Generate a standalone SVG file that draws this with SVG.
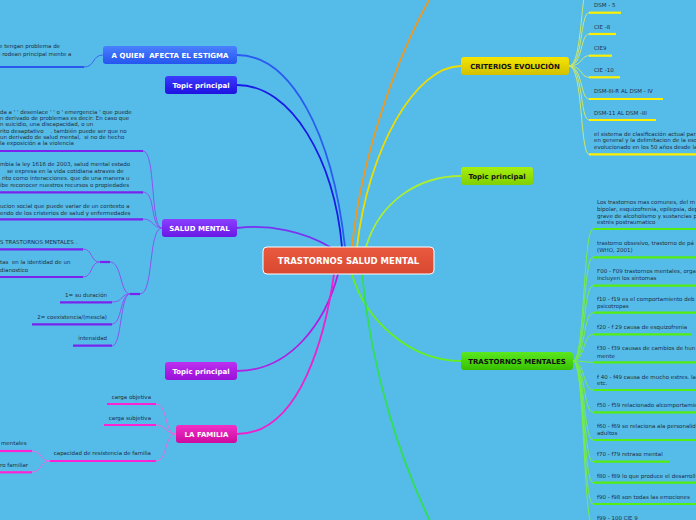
<svg xmlns="http://www.w3.org/2000/svg" width="696" height="520" viewBox="0 0 696 520">
<style>
.t{font-family:"DejaVu Sans",Verdana,sans-serif;font-size:5.5px;fill:#1f2d3d;white-space:pre}
.n{font-family:"DejaVu Sans",Verdana,sans-serif;font-size:7px;font-weight:bold;fill:#fff;white-space:pre}
.nb{fill:#111}
.e{text-anchor:end}
.c{fill:none;stroke-width:1.8;stroke-linecap:round}
.s{fill:none;stroke-width:1}
.u{stroke-width:2.2}
.bl{stroke:#2a58ee}.pu{stroke:#7a22ee}.mg{stroke:#ff22d4}.ye{stroke:#fff000}.gr{stroke:#55ee11}
</style>
<defs>
<linearGradient id="gRed" x1="0" y1="0" x2="0" y2="1"><stop offset="0" stop-color="#ea5a40"/><stop offset="1" stop-color="#d8472f"/></linearGradient>
<linearGradient id="gBlue" x1="0" y1="0" x2="0" y2="1"><stop offset="0" stop-color="#4a80ff"/><stop offset="1" stop-color="#2455ee"/></linearGradient>
<linearGradient id="gInd" x1="0" y1="0" x2="0" y2="1"><stop offset="0" stop-color="#3c3cff"/><stop offset="1" stop-color="#1e12e0"/></linearGradient>
<linearGradient id="gPur" x1="0" y1="0" x2="0" y2="1"><stop offset="0" stop-color="#8a40ff"/><stop offset="1" stop-color="#6a18e6"/></linearGradient>
<linearGradient id="gVio" x1="0" y1="0" x2="0" y2="1"><stop offset="0" stop-color="#bb30f0"/><stop offset="1" stop-color="#9a10d8"/></linearGradient>
<linearGradient id="gMag" x1="0" y1="0" x2="0" y2="1"><stop offset="0" stop-color="#f030c8"/><stop offset="1" stop-color="#cc0a9e"/></linearGradient>
<linearGradient id="gYel" x1="0" y1="0" x2="0" y2="1"><stop offset="0" stop-color="#f5e600"/><stop offset="1" stop-color="#d2c000"/></linearGradient>
<linearGradient id="gLim" x1="0" y1="0" x2="0" y2="1"><stop offset="0" stop-color="#a6f010"/><stop offset="1" stop-color="#80d000"/></linearGradient>
<linearGradient id="gGrn" x1="0" y1="0" x2="0" y2="1"><stop offset="0" stop-color="#5ae820"/><stop offset="1" stop-color="#38c000"/></linearGradient>
</defs>
<rect width="696" height="520" fill="#55bce9"/>

<g id="connectors">
<path class="c" stroke="#2a5cf0" d="M237,55 C290,55 332,130 345,247"/>
<path class="c" stroke="#1a1ae6" d="M237,85 C292,85 334,160 342,247"/>
<path class="c" stroke="#7a33ee" d="M237,228 C270,224 305,232 330,247"/>
<path class="c" stroke="#ee9922" d="M352,247 C362,150 400,50 432,-5"/>
<path class="c" stroke="#eedd00" d="M461,66 C415,66 368,150 357,247"/>
<path class="c" stroke="#aaee33" d="M461,176 C420,176 380,200 366,247"/>
<path class="c" stroke="#b020e0" d="M237,371 C292,371 326,320 338,274"/>
<path class="c" stroke="#ee22cc" d="M237,434 C302,434 326,330 334,274"/>
<path class="c" stroke="#66ee22" d="M461,361 C410,361 365,320 352,274"/>
<path class="c" stroke="#33dd55" d="M362,274 C372,380 405,470 432,525"/>

<path class="s" stroke="#3a66f0" d="M84,67 C95,67 92,55 103,55"/>

<path class="s" stroke="#8a55f0" d="M143,151 C156,151 150,228 162,228"/>
<path class="s" stroke="#8a55f0" d="M143,192 C156,192 150,228 162,228"/>
<path class="s" stroke="#8a55f0" d="M143,219 C154,219 152,228 162,228"/>
<path class="s" stroke="#8a55f0" d="M140,294 C154,294 148,228 162,228"/>
<path class="s" stroke="#8a55f0" d="M130,294 C120,294 122,262 110,262"/>
<path class="s" stroke="#8a55f0" d="M130,294 C120,294 124,302 112,302"/>
<path class="s" stroke="#8a55f0" d="M130,294 C120,294 122,324 112,324"/>
<path class="s" stroke="#8a55f0" d="M130,294 C120,294 122,346 112,346"/>
<path class="s" stroke="#8a55f0" d="M100,262 C90,262 93,249 83,249"/>
<path class="s" stroke="#8a55f0" d="M100,262 C90,262 93,277 83,277"/>
<line class="u pu" x1="100" y1="262" x2="110" y2="262"/>
<line class="u pu" x1="130" y1="294" x2="140" y2="294"/>

<path class="s" stroke="#ee66dd" d="M156,404 C168,404 164,434 176,434"/>
<path class="s" stroke="#ee66dd" d="M156,425 C166,425 166,434 176,434"/>
<path class="s" stroke="#ee66dd" d="M156,461 C168,461 164,434 176,434"/>
<path class="s" stroke="#ee66dd" d="M32,451 C42,451 40,461 50,461"/>
<path class="s" stroke="#ee66dd" d="M32,472 C42,472 40,461 50,461"/>

<g stroke="#c8e870">
<path class="s" d="M569,66 C583,66 580,-15 589,-15"/>
<path class="s" d="M569,66 C583,66 580,12.7 589,12.7"/>
<path class="s" d="M569,66 C583,66 580,34 589,34"/>
<path class="s" d="M569,66 C583,66 580,55.7 589,55.7"/>
<path class="s" d="M569,66 C583,66 580,77.3 589,77.3"/>
<path class="s" d="M569,66 C583,66 580,99 589,99"/>
<path class="s" d="M569,66 C583,66 580,120 589,120"/>
<path class="s" d="M569,66 C583,66 580,154.3 589,154.3"/>
</g>
<g stroke="#77ee44">
<path class="s" d="M573,361 C585,361 583,229 593,229"/>
<path class="s" d="M573,361 C585,361 583,257.3 593,257.3"/>
<path class="s" d="M573,361 C585,361 583,285.7 593,285.7"/>
<path class="s" d="M573,361 C585,361 583,312.7 593,312.7"/>
<path class="s" d="M573,361 C585,361 583,334.3 593,334.3"/>
<path class="s" d="M573,361 C585,361 583,362.3 593,362.3"/>
<path class="s" d="M573,361 C585,361 583,390 593,390"/>
<path class="s" d="M573,361 C585,361 583,412.3 593,412.3"/>
<path class="s" d="M573,361 C585,361 583,440 593,440"/>
<path class="s" d="M573,361 C585,361 583,461.7 593,461.7"/>
<path class="s" d="M573,361 C585,361 583,482.7 593,482.7"/>
<path class="s" d="M573,361 C585,361 583,504 593,504"/>
<path class="s" d="M573,361 C585,361 583,526 593,526"/>
</g>
</g>

<g id="center">
<rect x="263" y="247" width="171" height="27" rx="4" fill="url(#gRed)" stroke="#fff" stroke-width="1"/>
<text x="348.5" y="264" text-anchor="middle" style="font-family:'DejaVu Sans',Verdana,sans-serif;font-size:8.5px;font-weight:bold;fill:#fff">TRASTORNOS SALUD MENTAL</text>
</g>

<g id="n-estigma">
<rect x="103" y="46" width="134" height="18" rx="3" fill="url(#gBlue)"/>
<text class="n" x="170" y="57.5" text-anchor="middle">A QUIEN  AFECTA EL ESTIGMA</text>
</g>
<g id="n-topic-blue">
<rect x="165" y="76" width="72" height="18" rx="3" fill="url(#gInd)"/>
<text class="n" x="201" y="87.5" text-anchor="middle">Topic principal</text>
</g>
<g id="n-salud">
<rect x="162" y="219" width="75" height="18" rx="3" fill="url(#gPur)"/>
<text class="n" x="199.5" y="230.5" text-anchor="middle">SALUD MENTAL</text>
</g>
<g id="n-topic-violet">
<rect x="165" y="362" width="72" height="18" rx="3" fill="url(#gVio)"/>
<text class="n" x="201" y="373.5" text-anchor="middle">Topic principal</text>
</g>
<g id="n-familia">
<rect x="176" y="425" width="61" height="18" rx="3" fill="url(#gMag)"/>
<text class="n" x="206.5" y="436.5" text-anchor="middle">LA FAMILIA</text>
</g>
<g id="n-criterios">
<rect x="461" y="57" width="108" height="18" rx="3" fill="url(#gYel)"/>
<text class="n nb" x="515" y="68.5" text-anchor="middle">CRITERIOS EVOLUCIÒN</text>
</g>
<g id="n-topic-lime">
<rect x="461" y="167" width="72" height="18" rx="3" fill="url(#gLim)"/>
<text class="n nb" x="497" y="178.5" text-anchor="middle">Topic principal</text>
</g>
<g id="n-trastornos">
<rect x="461" y="352" width="112" height="18" rx="3" fill="url(#gGrn)"/>
<text class="n nb" x="517" y="363.5" text-anchor="middle">TRASTORNOS MENTALES</text>
</g>

<g id="s-estigma">
<text class="t" x="-1" y="48">e tengan problema de</text>
<text class="t" x="-3" y="56">e rodean principal mente a</text>
<line class="u bl" x1="0" y1="67" x2="84" y2="67"/>
</g>

<g id="s-salud-1">
<text class="t" x="0" y="113.5">da a ' ' desenlace ' ' o ' emergencia ' que puede</text>
<text class="t" x="0" y="119.9">n derivado de problemas es decir: En caso que</text>
<text class="t" x="0" y="126.2">n suicidio, una discapacidad, o un</text>
<text class="t" x="0" y="132.6">rito desaptativo    . también puede ser que no</text>
<text class="t" x="0" y="138.9">un derivado de salud mental,  si no de hecho</text>
<text class="t" x="0" y="145.3">la exposición a la violencia</text>
<line class="u pu" x1="0" y1="151" x2="143" y2="151"/>
</g>
<g id="s-salud-2">
<text class="t" x="0" y="166.3">mbia la ley 1616 de 2003, salud mental estado</text>
<text class="t" x="7" y="173">se expresa en la vida cotidiana atraves de</text>
<text class="t" x="2" y="179.8">rito como interacciones. que de una manera u</text>
<text class="t" x="0" y="186.5">ibe reconocer nuestros recursos o propiedades</text>
<line class="u pu" x1="0" y1="192.3" x2="143" y2="192.3"/>
</g>
<g id="s-salud-3">
<text class="t" x="0" y="207.7">ucion social que puede variar de un contexto a</text>
<text class="t" x="0" y="215">endo de los cristerios de salud y enfermedades</text>
<line class="u pu" x1="0" y1="219.3" x2="143" y2="219.3"/>
</g>
<g id="s-salud-4">
<text class="t" x="0" y="243.7">S TRASTORNOS MENTALES .</text>
<line class="u pu" x1="0" y1="249.3" x2="83" y2="249.3"/>
</g>
<g id="s-salud-5">
<text class="t" x="0" y="264.3">tas  en la identidad de un</text>
<text class="t" x="0" y="271.8">dianostico</text>
<line class="u pu" x1="0" y1="277" x2="83" y2="277"/>
</g>
<g id="s-duracion">
<text class="t e" x="107" y="297">1= su duración</text>
<line class="u pu" x1="60" y1="302.3" x2="112" y2="302.3"/>
</g>
<g id="s-coexistencia">
<text class="t e" x="107" y="319.3">2= coexistencia/(mescla)</text>
<line class="u pu" x1="32" y1="324.3" x2="112" y2="324.3"/>
</g>
<g id="s-intensidad">
<text class="t e" x="107" y="340.3">intensidad</text>
<line class="u pu" x1="73" y1="345.7" x2="112" y2="345.7"/>
</g>

<g id="s-carga-obj">
<text class="t e" x="151" y="398.7">carga objetiva</text>
<line class="u mg" x1="107" y1="404" x2="156" y2="404"/>
</g>
<g id="s-carga-sub">
<text class="t e" x="151" y="420.3">carga subjetiva</text>
<line class="u mg" x1="104" y1="425" x2="156" y2="425"/>
</g>
<g id="s-capacidad">
<text class="t e" x="151" y="455.3">capacidad de resistencia de familia</text>
<line class="u mg" x1="50" y1="461" x2="156" y2="461"/>
</g>
<g id="s-mentales">
<text class="t" x="1" y="445.3">mentales</text>
<line class="u mg" x1="0" y1="451" x2="32" y2="451"/>
</g>
<g id="s-familiar">
<text class="t" x="0" y="467">ro familiar</text>
<line class="u mg" x1="0" y1="472.3" x2="32" y2="472.3"/>
</g>

<g id="s-criterios">
<text class="t" x="594" y="7">DSM - 5</text>
<line class="u ye" x1="589" y1="12.7" x2="621" y2="12.7"/>
<text class="t" x="594" y="28.7">CIE -8</text>
<line class="u ye" x1="589" y1="34" x2="616" y2="34"/>
<text class="t" x="594" y="50">CIE9</text>
<line class="u ye" x1="589" y1="55.7" x2="612" y2="55.7"/>
<text class="t" x="594" y="72">CIE -10</text>
<line class="u ye" x1="589" y1="77.3" x2="620" y2="77.3"/>
<text class="t" x="594" y="92.7">DSM-III-R AL DSM - IV</text>
<line class="u ye" x1="589" y1="99" x2="663" y2="99"/>
<text class="t" x="594" y="114.7">DSM-11 AL DSM -III</text>
<line class="u ye" x1="589" y1="120" x2="656" y2="120"/>
<text class="t" x="594" y="136.3">el sistema de clasificación actual para</text>
<text class="t" x="594" y="142.3">en general y la delimitacion de la esq</text>
<text class="t" x="594" y="148.7">evolucionado en los 50 años desde la</text>
<line class="u ye" x1="589" y1="154.3" x2="696" y2="154.3"/>
</g>

<g id="s-trastornos">
<text class="t" x="597" y="204.3">Los trastornos mas comunes, del m</text>
<text class="t" x="597" y="211">bipolar, esquizofrenia, epilepsia, dep</text>
<text class="t" x="597" y="217.7">grave de alcoholismo y sustancias p</text>
<text class="t" x="597" y="224.3">estrés postraumatico</text>
<line class="u gr" x1="593" y1="229" x2="696" y2="229"/>
<text class="t" x="597" y="244.7">trastorno obsesivo, trastorno de pá</text>
<text class="t" x="597" y="252.3">(WHO, 2001)</text>
<line class="u gr" x1="593" y1="257.3" x2="696" y2="257.3"/>
<text class="t" x="597" y="272.7">F00 - F09 trastornos mentales, orga</text>
<text class="t" x="597" y="280.3">incluyen los síntomas</text>
<line class="u gr" x1="593" y1="285.7" x2="696" y2="285.7"/>
<text class="t" x="597" y="301">f10 - f19 es el comportamiento deb</text>
<text class="t" x="597" y="307.7">psicotropas</text>
<line class="u gr" x1="593" y1="312.7" x2="696" y2="312.7"/>
<text class="t" x="597" y="328.7">f20 - f 29 causa de esquizofrenia</text>
<line class="u gr" x1="593" y1="334.3" x2="692" y2="334.3"/>
<text class="t" x="597" y="350.3">f30 - f39 causas de cambios de hun</text>
<text class="t" x="597" y="357.7">mente</text>
<line class="u gr" x1="593" y1="362.3" x2="696" y2="362.3"/>
<text class="t" x="597" y="378.7">f 40 - f49 causa de mucho estres. la</text>
<text class="t" x="597" y="385.3">etc.</text>
<line class="u gr" x1="593" y1="390" x2="696" y2="390"/>
<text class="t" x="597" y="407">f50 - f59 relacionado alcomportamien</text>
<line class="u gr" x1="593" y1="412.3" x2="696" y2="412.3"/>
<text class="t" x="597" y="428">f60 - f69 se relaciona ala personalid</text>
<text class="t" x="597" y="435.3">adultos</text>
<line class="u gr" x1="593" y1="440" x2="696" y2="440"/>
<text class="t" x="597" y="456">f70 - f79 retraso mental</text>
<line class="u gr" x1="593" y1="461.7" x2="669" y2="461.7"/>
<text class="t" x="597" y="477.7">f80 - f89 lo que produce el desarroll</text>
<line class="u gr" x1="593" y1="482.7" x2="696" y2="482.7"/>
<text class="t" x="597" y="498.7">f90 - f98 son todas las emociones</text>
<line class="u gr" x1="593" y1="504" x2="696" y2="504"/>
<text class="t" x="597" y="520.3">f99 - 100 CIE 9</text>
</g>
</svg>
